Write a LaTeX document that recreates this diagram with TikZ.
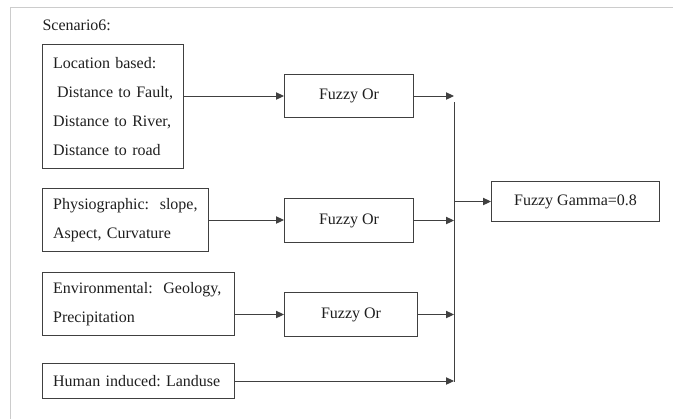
\documentclass[tikz,border=0pt]{standalone}
\usepackage{fontspec}
\setmainfont{Liberation Serif}
\usetikzlibrary{arrows.meta,calc}
\definecolor{linegray}{RGB}{64,64,64}
\definecolor{framegray}{RGB}{204,204,204}
\definecolor{textgray}{RGB}{30,30,30}
\tikzset{
  diagram/.style={
    x=0.75pt,
    y=-0.75pt,
    line width=0.75pt,
    color=linegray,
    text=textgray,
    font=\fontsize{12}{21.75}\selectfont\frenchspacing
  },
  factor-box/.style={
    draw=linegray,
    anchor=north west,
    align=left,
    inner xsep=8pt,
    inner ysep=0pt
  },
  fuzzy-box/.style={
    draw=linegray,
    anchor=north west,
    align=center,
    inner sep=0pt
  },
  feed/.style={-{Triangle[length=6pt,width=5.5pt]}}
}

\begin{document}
\begin{tikzpicture}[diagram]
  \useasboundingbox (0,0) rectangle (673,419);
  \draw[framegray] (673,7) -- (10,7) -- (10,419);

  \node[anchor=base west, inner sep=0pt] (title) at (42,30) {Scenario6:};

  % input factors
  \node[factor-box, text width=89.75pt, minimum height=93pt] (location) at (42,44)
    {\mbox{Location based:}\\\mbox{\kern3pt Distance to Fault,}\\\mbox{Distance to River,}\\\mbox{Distance to road}};
  \node[factor-box, text width=108.5pt, minimum height=47.25pt] (physio) at (42,188)
    {\mbox{Physiographic:~~slope,}\\\mbox{Aspect, Curvature}};
  \node[factor-box, text width=128pt, minimum height=47.25pt] (environ) at (42,272)
    {\mbox{Environmental:~~Geology,}\\\mbox{Precipitation}};
  \node[factor-box, text width=128pt, minimum height=26.25pt] (human) at (42,363)
    {\mbox{Human induced: Landuse}};

  % fuzzy operators
  \node[fuzzy-box, minimum width=96.75pt, minimum height=32.25pt] (or-a) at (284,74) {Fuzzy Or};
  \node[fuzzy-box, minimum width=96.75pt, minimum height=33pt] (or-b) at (284,198) {Fuzzy Or};
  \node[fuzzy-box, minimum width=99.75pt, minimum height=33pt] (or-c) at (284,292) {Fuzzy Or};
  \node[fuzzy-box, minimum width=126pt, minimum height=30pt] (gamma) at (491,181) {Fuzzy Gamma=0.8};

  \coordinate (bus-top) at (454,102);
  \coordinate (bus-bot) at (454,382);

  \draw[feed] (or-a.west -| location.east) -- (or-a.west);
  \draw[feed] (physio.east) -- (physio.east -| or-b.west);
  \draw[feed] (or-c.west -| environ.east) -- (or-c.west);

  \draw (bus-top) -- (bus-bot);
  \draw[feed] (or-a.east) -- (or-a.east -| bus-top);
  \draw[feed] (or-b.east) -- (or-b.east -| bus-top);
  \draw[feed] (or-c.east) -- (or-c.east -| bus-top);
  \draw[feed] (human.east) -- (human.east -| bus-top);
  \draw[feed] (gamma.west -| bus-top) -- (gamma.west);
\end{tikzpicture}
\end{document}
